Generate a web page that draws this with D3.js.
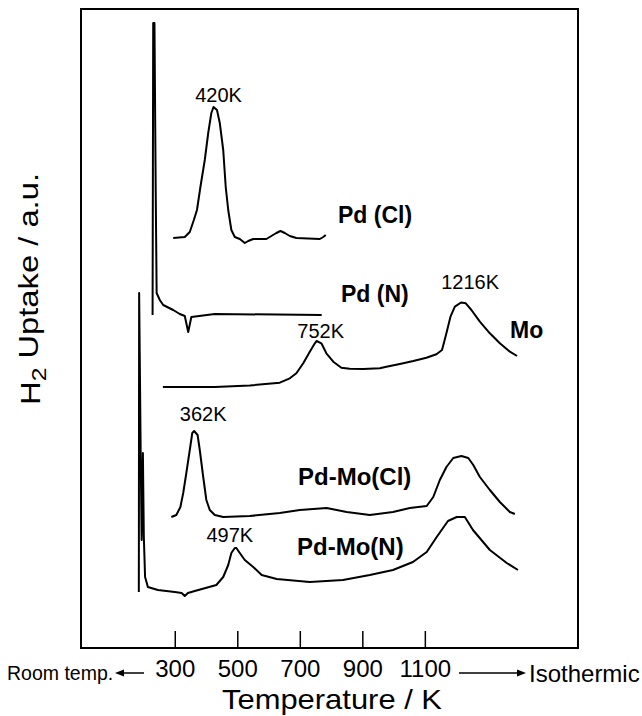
<!DOCTYPE html>
<html>
<head>
<meta charset="utf-8">
<script src="https://cdn.jsdelivr.net/npm/d3@7"></script>
<style>
  body { margin: 0; background: #fff; }
  svg { display: block; }
  text { font-family: "Liberation Sans", Arial, Helvetica, sans-serif; fill: #000; }
</style>
</head>
<body>
<svg width="642" height="716"></svg>
<script>
// Temperature (K) and H2 uptake signal (a.u., above each trace's own baseline)
var pdClTemp = [295, 332, 348, 361, 371, 382, 396, 407, 417, 424, 435, 444, 455, 463, 471, 481, 492, 508, 524, 535, 551, 593, 609, 625, 638, 652, 668, 689, 764, 775, 783];
var pdClSignal = [0, 0.1, 0.6, 1.8, 2.8, 5.1, 7.8, 10.5, 12.5, 13.1, 12.8, 11.5, 8.8, 5.1, 2.8, 0.8, 0.1, -0.1, -0.5, -0.3, -0.1, -0.1, 0.2, 0.5, 0.7, 0.5, 0.2, 0, -0.1, 0.1, 0.3];

var pdNTemp = [229, 231, 235, 239, 242, 252, 263, 295, 316, 332, 343, 353, 428, 770];
var pdNSignal = [0, 29.2, 29.2, 12.5, 2.2, 1.5, 1.0, 0.5, 0.1, -0.1, -1.7, -0.2, 0.1, 0];

var moTemp = [262, 428, 540, 636, 668, 689, 711, 732, 748, 754, 769, 785, 807, 833, 860, 903, 956, 977, 1020, 1063, 1105, 1137, 1155, 1169, 1182, 1196, 1216, 1231, 1249, 1276, 1308, 1340, 1372, 1395];
var moSignal = [0, 0, 0.15, 0.43, 0.87, 1.37, 2.37, 3.53, 4.37, 4.6, 4.37, 3.37, 2.53, 1.93, 1.83, 1.8, 1.87, 2.03, 2.3, 2.6, 2.93, 3.27, 3.7, 5.37, 7.03, 8.03, 8.45, 8.37, 7.7, 6.53, 5.37, 4.37, 3.53, 3.1];

var pdMoClTemp = [289, 305, 318, 327, 337, 348, 356, 362, 373, 380, 391, 401, 412, 428, 455, 540, 636, 700, 786, 850, 924, 998, 1052, 1106, 1127, 1148, 1169, 1191, 1217, 1239, 1255, 1276, 1308, 1340, 1372, 1388];
var pdMoClSignal = [0, 0.2, 1.0, 2.4, 4.4, 6.7, 8.4, 8.6, 8.2, 6.7, 4.0, 1.7, 0.7, 0.2, 0, 0.1, 0.4, 0.7, 0.9, 0.5, 0.2, 0.5, 0.9, 1.1, 2.0, 3.7, 5.0, 5.9, 6.1, 5.9, 5.2, 4.0, 2.7, 1.5, 0.5, 0.3];

var pdMoNTemp = [185, 186, 191, 194, 198, 201, 205, 214, 246, 300, 322, 332, 342, 364, 433, 455, 471, 481, 492, 497, 508, 524, 551, 578, 626, 732, 838, 924, 998, 1062, 1106, 1138, 1174, 1202, 1228, 1254, 1308, 1362, 1398];
var pdMoNSignal = [-0.2, 29.7, 13.5, 5.0, 13.7, 5.3, 1.3, 0.3, 0, -0.2, -0.3, -0.6, -0.3, -0.1, 0.5, 1.3, 2.5, 3.7, 4.2, 4.2, 3.7, 3.0, 2.3, 1.5, 1.1, 0.8, 1.0, 1.5, 2.0, 2.8, 3.8, 5.3, 6.9, 7.3, 7.3, 6.0, 4.0, 2.7, 2.0];

// Series names and vertical offsets (a.u.) of the stacked traces
var seriesNames = ["Pd (Cl)", "Pd (N)", "Mo", "Pd-Mo(Cl)", "Pd-Mo(N)"];
var seriesOffsets = [41.0, 33.3, 26.1, 13.1, 5.8];

// Peak labels: temperature and the trace they belong to
var peakTemps = [420, 752, 1216, 362, 497];
var peakSeries = [0, 2, 2, 3, 4];

// x axis tick labels
var tickValues = [300, 500, 700, 900, 1100];

var allTemps = [pdClTemp, pdNTemp, moTemp, pdMoClTemp, pdMoNTemp];
var allSignals = [pdClSignal, pdNSignal, moSignal, pdMoClSignal, pdMoNSignal];

var svg = d3.select("svg");

var x = d3.scaleLinear().domain([0, 1590]).range([81, 578]);
var y = d3.scaleLinear().domain([0, 64]).range([648, 8]);

// frame
svg.append("rect")
  .attr("x", x.range()[0])
  .attr("y", 9)
  .attr("width", x.range()[1] - x.range()[0])
  .attr("height", 648 - 9)
  .attr("fill", "none")
  .attr("stroke", "#000")
  .attr("stroke-width", 2);

// x axis, ticks pointing into the plot
var xAxis = svg.append("g")
  .attr("transform", "translate(0,648)")
  .call(d3.axisBottom(x).tickValues(tickValues).tickSize(-17).tickPadding(12).tickFormat(d3.format("d")));
xAxis.select(".domain").remove();
xAxis.selectAll(".tick line").attr("stroke", "#000").attr("stroke-width", 1.5);
xAxis.selectAll(".tick text")
  .style("font-family", "'Liberation Sans', Arial, sans-serif")
  .style("font-size", "24px")
  .attr("fill", "#000");

// traces
var line = d3.line()
  .x(function (d) { return x(d[0]); })
  .y(function (d) { return y(d[1]); });

seriesNames.forEach(function (name, i) {
  var pts = allTemps[i].map(function (t, j) { return [t, allSignals[i][j] + seriesOffsets[i]]; });
  svg.append("path")
    .datum(pts)
    .attr("d", line)
    .attr("fill", "none")
    .attr("stroke", "#000")
    .attr("stroke-width", 2)
    .attr("stroke-linejoin", "round");
});

// peak labels (nudges are layout only)
var peakNudge = [[5, 5], [4, 3], [9, 14], [9, 10], [-5, 6]];
peakTemps.forEach(function (t, k) {
  var s = peakSeries[k];
  var best = 0, bestT = t;
  allTemps[s].forEach(function (tt, j) {
    if (Math.abs(tt - t) < 40 && allSignals[s][j] > best) { best = allSignals[s][j]; bestT = tt; }
  });
  svg.append("text")
    .attr("x", x(bestT) + peakNudge[k][0])
    .attr("y", y(best + seriesOffsets[s]) - peakNudge[k][1])
    .attr("text-anchor", "middle")
    .style("font-size", "20px")
    .text(t + "K");
});

// trace names
var namePos = [[338, 223], [341, 302], [510, 338], [298, 485], [297, 555]];
var nameSize = [23, 23, 23, 24, 24];
seriesNames.forEach(function (name, i) {
  svg.append("text")
    .attr("x", namePos[i][0])
    .attr("y", namePos[i][1])
    .style("font-size", nameSize[i] + "px")
    .style("font-weight", "bold")
    .text(name);
});

// side annotations of the x axis
svg.append("text").attr("x", 7).attr("y", 680).style("font-size", "19.5px").text("Room temp.");
svg.append("line").attr("x1", 144).attr("y1", 673).attr("x2", 121).attr("y2", 673).attr("stroke", "#000").attr("stroke-width", 1.5);
svg.append("path").attr("d", "M115,673 L124,669.5 L124,676.5 Z").attr("fill", "#000");

svg.append("line").attr("x1", 459).attr("y1", 673).attr("x2", 519).attr("y2", 673).attr("stroke", "#000").attr("stroke-width", 1.5);
svg.append("path").attr("d", "M526,673 L517,669.5 L517,676.5 Z").attr("fill", "#000");
svg.append("text").attr("x", 529).attr("y", 682).style("font-size", "24px").text("Isothermic");

// axis titles
svg.append("text")
  .attr("x", 222)
  .attr("y", 709)
  .attr("textLength", 220)
  .attr("lengthAdjust", "spacingAndGlyphs")
  .style("font-size", "28px")
  .text("Temperature / K");

var yTitle = svg.append("text")
  .attr("transform", "translate(40,405) rotate(-90)")
  .attr("textLength", 232)
  .attr("lengthAdjust", "spacingAndGlyphs")
  .style("font-size", "28px");
yTitle.append("tspan").text("H");
yTitle.append("tspan").attr("dy", "0.3em").style("font-size", "21px").text("2");
yTitle.append("tspan").attr("dy", "-0.3em").text(" Uptake / a.u.");
</script>
</body>
</html>
